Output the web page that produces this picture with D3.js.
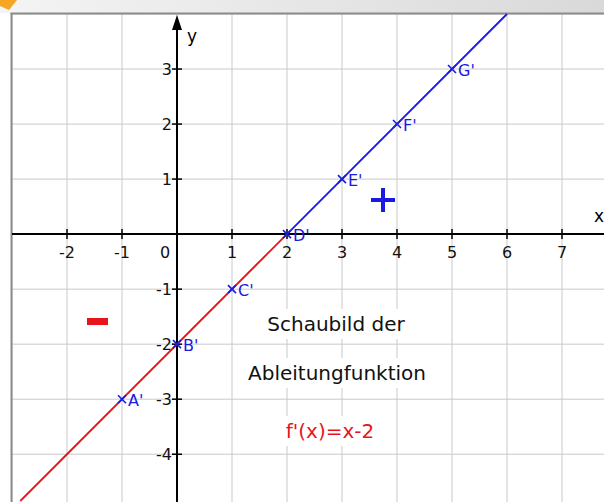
<!DOCTYPE html>
<html>
<head>
<meta charset="utf-8">
<script src="https://cdn.jsdelivr.net/npm/d3@7"></script>
<style>
  html, body { margin: 0; padding: 0; background: #fff; }
  svg { display: block; }
  text { font-family: "DejaVu Sans", Verdana, sans-serif; }
</style>
</head>
<body>
<svg id="chart" width="604" height="502"></svg>
<script>
// Derivative f'(x) = x - 2, with marked points A' ... G'
const pointNames = ["A'", "B'", "C'", "D'", "E'", "F'", "G'"];
const pointX = [-1, 0, 1, 2, 3, 4, 5];
const pointY = [-3, -2, -1, 0, 1, 2, 3];
const xTicks = [-2, -1, 0, 1, 2, 3, 4, 5, 6, 7];
const yTicks = [-4, -3, -2, -1, 1, 2, 3];
const gridX = [-3, -2, -1, 0, 1, 2, 3, 4, 5, 6, 7];
const gridY = [-4, -3, -2, -1, 0, 1, 2, 3, 4];
const xDomain = [-3, 7.8];
const yDomain = [-4.85, 4];
const captionLines = ["Schaubild der", "Ableitungfunktion"];
const formula = "f'(x)=x-2";

const f = x => x - 2;

const svg = d3.select("#chart");
const x = d3.scaleLinear().domain(xDomain).range([12, 606]);
const y = d3.scaleLinear().domain(yDomain).range([501, 14]);

// window chrome: top bar and frame
const defs = svg.append("defs");
const grad = defs.append("linearGradient").attr("id", "bar").attr("x1", 0).attr("x2", 1);
grad.append("stop").attr("offset", 0).attr("stop-color", "#f4f4f4");
grad.append("stop").attr("offset", 1).attr("stop-color", "#d9d9d9");
svg.append("rect").attr("x", 0).attr("y", 0).attr("width", 604).attr("height", 13).attr("fill", "url(#bar)");
svg.append("path").attr("d", "M0,0 L17,0 L9,10 L0,6 Z").attr("fill", "#f5a623");

const plot = svg.append("g");
plot.append("rect").attr("x", x(xDomain[0])).attr("y", y(yDomain[1]))
  .attr("width", 604 - x(xDomain[0])).attr("height", 502 - y(yDomain[1])).attr("fill", "#fff");

// grid
plot.selectAll(".gx").data(gridX).join("line")
  .attr("x1", d => x(d)).attr("x2", d => x(d)).attr("y1", y(yDomain[1])).attr("y2", 502)
  .attr("stroke", "#c9c9c9").attr("stroke-width", 1);
plot.selectAll(".gy").data(gridY).join("line")
  .attr("y1", d => y(d)).attr("y2", d => y(d)).attr("x1", x(xDomain[0])).attr("x2", 604)
  .attr("stroke", "#c9c9c9").attr("stroke-width", 1);

// frame border
plot.append("line").attr("x1", x(xDomain[0]) - 0.5).attr("x2", x(xDomain[0]) - 0.5)
  .attr("y1", y(yDomain[1]) - 1).attr("y2", 502).attr("stroke", "#8c8c8c").attr("stroke-width", 2);
plot.append("line").attr("x1", x(xDomain[0]) - 1.5).attr("x2", 604)
  .attr("y1", y(yDomain[1]) - 0.5).attr("y2", y(yDomain[1]) - 0.5).attr("stroke", "#8c8c8c").attr("stroke-width", 2);

// caption (white boxes behind the text hide the grid)
const capG = plot.append("g");
function boxedText(tx, ty, str, size, color) {
  const bg = capG.append("rect").attr("fill", "#fff");
  const t = capG.append("text").attr("x", tx).attr("y", ty).attr("font-size", size)
    .attr("fill", color).attr("text-anchor", "middle").text(str);
  const b = t.node().getBBox();
  bg.attr("x", b.x - 4).attr("y", b.y - 3).attr("width", b.width + 8).attr("height", b.height + 6);
}
boxedText(336, 331, captionLines[0], 20, "#111");
boxedText(337, 380, captionLines[1], 20, "#111");
boxedText(330, 438, formula, 20, "#e8141b");

// axes
const ax = plot.append("g").attr("stroke", "#000");
ax.append("line").attr("x1", x(xDomain[0])).attr("x2", 604).attr("y1", y(0)).attr("y2", y(0)).attr("stroke-width", 2);
ax.append("line").attr("x1", x(0)).attr("x2", x(0)).attr("y1", 502).attr("y2", y(yDomain[1]) + 10).attr("stroke-width", 2);
plot.append("path")
  .attr("d", `M${x(0)},${y(yDomain[1]) + 1} L${x(0) - 5},${y(yDomain[1]) + 16} L${x(0) + 5},${y(yDomain[1]) + 16} Z`)
  .attr("fill", "#000");
plot.append("text").attr("x", x(0) + 10).attr("y", y(yDomain[1]) + 28).attr("font-size", 17).text("y");
plot.append("text").attr("x", 594).attr("y", y(0) - 12).attr("font-size", 17).text("x");

ax.selectAll(".tx").data(xTicks.filter(d => d !== 0)).join("line")
  .attr("x1", d => x(d)).attr("x2", d => x(d)).attr("y1", y(0) - 5).attr("y2", y(0) + 5).attr("stroke-width", 1.5);
ax.selectAll(".ty").data(yTicks).join("line")
  .attr("y1", d => y(d)).attr("y2", d => y(d)).attr("x1", x(0) - 5).attr("x2", x(0) + 5).attr("stroke-width", 1.5);

const tickLabel = (sel) => sel.attr("font-size", 16).attr("fill", "#111");
plot.selectAll(".lx").data(xTicks).join("text")
  .attr("x", d => d === 0 ? x(0) - 12 : x(d)).attr("y", y(0) + 24)
  .attr("text-anchor", "middle").call(tickLabel)
  .text(d => d < 0 ? "-" + Math.abs(d) : d);
plot.selectAll(".ly").data(yTicks).join("text")
  .attr("x", x(0) - 5).attr("y", d => y(d) + 6)
  .attr("text-anchor", "end").call(tickLabel)
  .text(d => d < 0 ? "-" + Math.abs(d) : d);

// function graph: red where f' < 0, blue where f' > 0
const zero = 2;
const xLeft = yDomain[0] + 2, xRight = yDomain[1] + 2;
plot.append("line").attr("x1", x(xLeft)).attr("y1", y(f(xLeft))).attr("x2", x(zero)).attr("y2", y(f(zero)))
  .attr("stroke", "#e8141b").attr("stroke-width", 1.8);
plot.append("line").attr("x1", x(zero)).attr("y1", y(f(zero))).attr("x2", x(xRight)).attr("y2", y(f(xRight)))
  .attr("stroke", "#1a1ae0").attr("stroke-width", 1.8);

// marked points
const pts = pointX.map((d, i) => ({ x: d, y: pointY[i], name: pointNames[i] }));
const pg = plot.selectAll(".pt").data(pts).join("g")
  .attr("transform", d => `translate(${x(d.x)},${y(d.y)})`);
pg.append("path").attr("d", "M-4,-4 L4,4 M-4,4 L4,-4")
  .attr("stroke", "#1a1ae0").attr("stroke-width", 1.6);
pg.append("text").attr("x", 6).attr("y", 7).attr("font-size", 16).attr("fill", "#1a1ae0").text(d => d.name);

// sign markers
plot.append("rect").attr("x", 87).attr("y", 318).attr("width", 21).attr("height", 7).attr("fill", "#e8141b");
plot.append("path").attr("d", "M371,200 L395,200 M383,188 L383,212")
  .attr("stroke", "#1a1ae0").attr("stroke-width", 4);
</script>
</body>
</html>
